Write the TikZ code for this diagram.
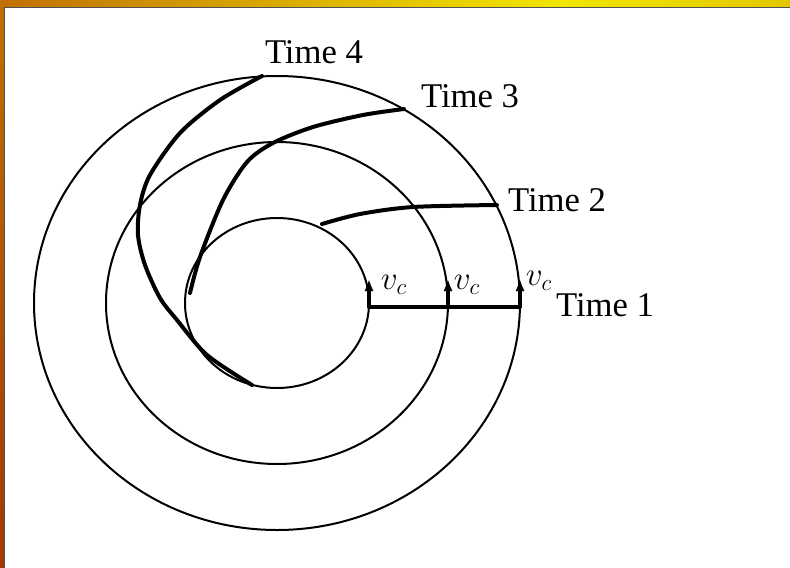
\documentclass[tikz,border=0pt]{standalone}
\usepackage{fontspec}
\setmainfont{Liberation Serif}
\usetikzlibrary{arrows.meta}
\definecolor{slideorange}{RGB}{192,112,0}
\definecolor{slideyellow}{RGB}{242,230,0}
\definecolor{slidegold}{RGB}{226,200,0}
\definecolor{slidebrown}{RGB}{165,55,0}
\definecolor{slideedge}{RGB}{80,80,80}

\begin{document}
\begin{tikzpicture}[x=0.75pt, y=-0.75pt,
  ring/.style={draw=black, line width=1.5pt},
  front/.style={draw=black, line width=3pt, line cap=round, line join=round},
  vel/.style={-{Latex[length=9pt,width=7pt]}, line width=2.4pt},
  timelbl/.style={font=\fontsize{26}{30}\selectfont, inner sep=0pt},
  vlbl/.style={font=\fontsize{25}{29}\selectfont, inner sep=0pt}
]
\useasboundingbox (0,0) rectangle (790,568);

% Slide frame
\fill[white] (0,0) rectangle (790,568);
\shade[left color=slideorange, right color=slideyellow] (0,0) rectangle (560,7);
\shade[left color=slideyellow, right color=slidegold] (560,0) rectangle (790,7);
\shade[top color=slideorange, bottom color=slidebrown] (0,0) rectangle (4,568);
\draw[slideedge, line width=0.6pt] (4.5,568) -- (4.5,7.5) -- (790,7.5);

% Rings
\coordinate (ctr) at (277,303);
\draw[ring] (ctr) ellipse [x radius=92,  y radius=85];
\draw[ring] (ctr) ellipse [x radius=171, y radius=161];
\draw[ring] (ctr) ellipse [x radius=243, y radius=227];

% Fronts
\coordinate (r1) at (369,307);
\coordinate (r2) at (448,307);
\coordinate (r3) at (520,307);
\draw[front] (r1) -- (r3);
\draw[front] plot[smooth] coordinates {(322,224) (360,214) (413,207) (497,205)};
\draw[front] plot[smooth] coordinates {(190,293) (200,257) (223,200) (247,162)
  (273,143) (313,127) (363,115) (404,109)};
\draw[front] plot[smooth] coordinates {(252,385) (207,355) (177,320) (160,298)
  (145,265) (138,235) (140,205) (150,175) (180,133) (220,100) (262,76)};

% Velocities
\draw[vel] (r1) -- ++(0,-28);
\draw[vel] (r2) -- ++(0,-28);
\draw[vel] (r3) -- ++(0,-28);
\node[vlbl] (v1) at (394,285) {$v_c$};
\node[vlbl] (v2) at (467,285) {$v_c$};
\node[vlbl] (v3) at (539,281) {$v_c$};

% Labels
\node[timelbl] (t1) at (605,305) {Time 1};
\node[timelbl] (t2) at (557,200) {Time 2};
\node[timelbl] (t3) at (470,96)  {Time 3};
\node[timelbl] (t4) at (314,52)  {Time 4};

\end{tikzpicture}
\end{document}
